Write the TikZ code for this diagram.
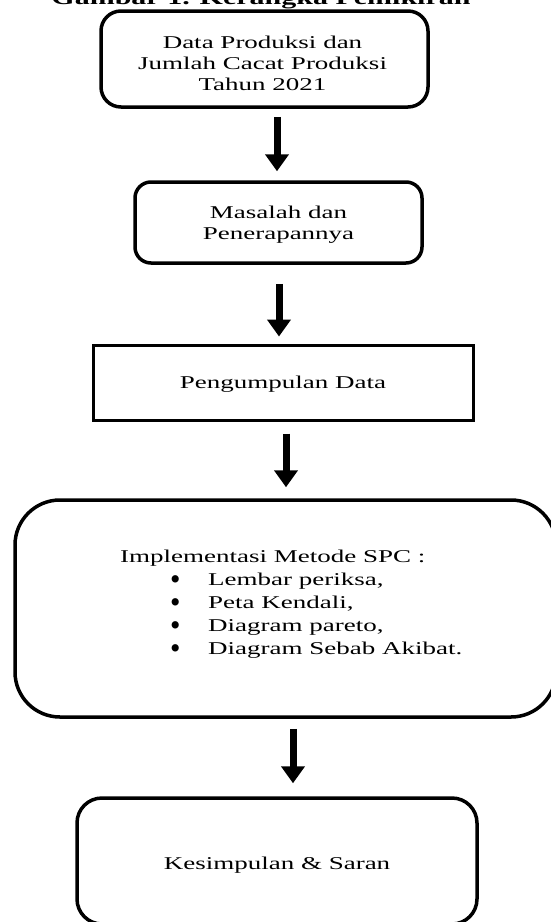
\documentclass[tikz,border=0pt]{standalone}
\usepackage{fontspec}
\setmainfont{Liberation Serif}[FakeStretch=1.5]
\usetikzlibrary{arrows.meta}
\newcommand{\bigbul}{\smash{\raisebox{-4.2pt}{\scalebox{0.9}[1.4]{\fontsize{22}{0}\selectfont •}}}}
\tikzset{
  rbox/.style={draw, line width=3.5pt, rounded corners=#1, inner sep=0pt},
  pbox/.style={draw, line width=3pt, inner sep=0pt},
  btext/.style={align=center, inner sep=0pt, font=\fontsize{18}{21}\selectfont},
  bigarrow/.style={line width=7pt, -{Triangle[width=23pt,length=17pt]}}
}
\begin{document}
\begin{tikzpicture}[x=1pt,y=-1pt]
\useasboundingbox (0,0) rectangle (551,922);
\clip (0,0) rectangle (551,922);
\node[font=\bfseries\fontsize{20}{24}\selectfont, anchor=base, inner sep=0pt] (title) at (261,4) {Gambar 1. Kerangka Pemikiran};
\node[rbox=20pt, minimum width=327pt, minimum height=96pt] (box1) at (264.5,59) {};
\node[btext, yshift=-4pt, xshift=-2pt] (t1) at (box1.center) {Data Produksi dan\\Jumlah Cacat Produksi\\Tahun 2021};
\node[rbox=16pt, minimum width=287pt, minimum height=81pt] (box2) at (278.5,222.5) {};
\node[btext, yshift=-2pt] (t2) at (box2.center) {Masalah dan\\Penerapannya};
\node[pbox, minimum width=380pt, minimum height=75pt] (box3) at (283,382.5) {};
\node[btext, yshift=-2pt] (t3) at (box3.center) {Pengumpulan Data};
\node[rbox=45pt, minimum width=541pt, minimum height=217pt] (box4) at (285.5,608.5) {};
\node[anchor=north west, align=left, inner sep=0pt, font=\fontsize{18}{23}\selectfont] (t4) at (120,550)
  {Implementasi Metode SPC :\\
   \hspace*{50pt}\makebox[38pt][l]{\bigbul}Lembar periksa,\\
   \hspace*{50pt}\makebox[38pt][l]{\bigbul}Peta Kendali,\\
   \hspace*{50pt}\makebox[38pt][l]{\bigbul}Diagram pareto,\\
   \hspace*{50pt}\makebox[38pt][l]{\bigbul}Diagram Sebab Akibat.};
\node[rbox=25pt, minimum width=400pt, minimum height=126pt] (box5) at (277,861) {};
\node[btext, yshift=-4pt] (t5) at (box5.center) {Kesimpulan \& Saran};
\coordinate (x1) at (277,0);
\coordinate (x2) at (279,0);
\coordinate (x3) at (286,0);
\coordinate (x4) at (293,0);
\draw[bigarrow, shorten <=8pt, shorten >=9pt] (x1 |- box1.south) -- (x1 |- box2.north);
\draw[bigarrow, shorten <=19pt, shorten >=7pt] (x2 |- box2.south) -- (x2 |- box3.north);
\draw[bigarrow, shorten <=12pt, shorten >=11pt] (x3 |- box3.south) -- (x3 |- box4.north);
\draw[bigarrow, shorten <=10pt, shorten >=13pt] (x4 |- box4.south) -- (x4 |- box5.north);
\end{tikzpicture}
\end{document}
